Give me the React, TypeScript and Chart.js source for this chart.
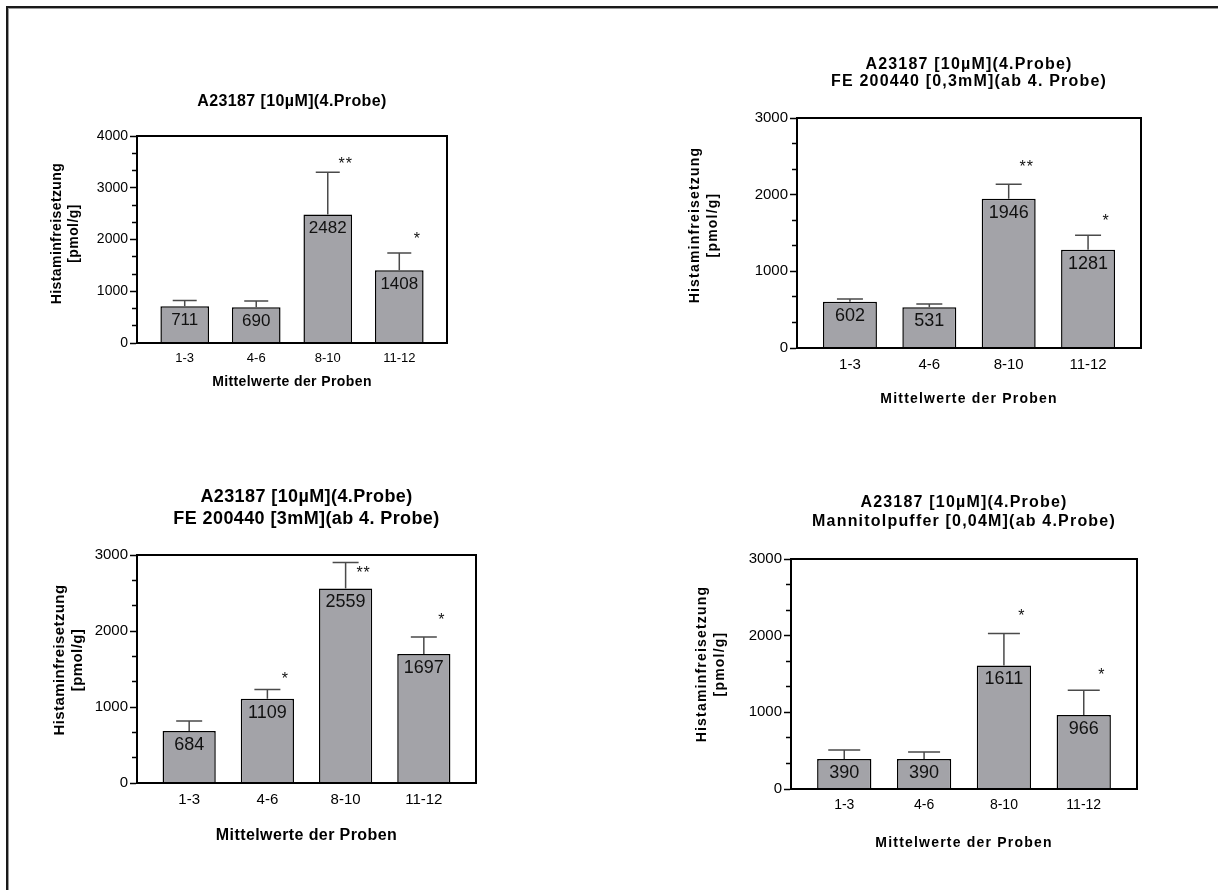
import React, { useEffect, useRef } from 'react';
import { Chart, registerables } from 'chart.js';

Chart.register(...registerables);

const W = 1218;
const H = 890;
const FONT = 'Arial, "Liberation Sans", Helvetica, sans-serif';

// ---------- data ----------
const categories = ['1-3', '4-6', '8-10', '11-12'];
const yAxisTitle = ['Histaminfreisetzung', '[pmol/g]'];
const xAxisTitle = 'Mittelwerte der Proben';

const titleA = ['A23187 [10µM](4.Probe)'];
const valuesA = [711, 690, 2482, 1408];
const errorsA = [109, 122, 818, 332];
const starsA = ['', '', '**', '*'];
const starLevelsA = [0, 0, 3507, 2056];
const yMaxA = 4000;

const titleB = ['A23187 [10µM](4.Probe)', 'FE 200440 [0,3mM](ab 4. Probe)'];
const valuesB = [602, 531, 1946, 1281];
const errorsB = [38, 44, 191, 189];
const starsB = ['', '', '**', '*'];
const starLevelsB = [0, 0, 2391, 1693];
const yMaxB = 3000;

const titleC = ['A23187 [10µM](4.Probe)', 'FE 200440 [3mM](ab 4. Probe)'];
const valuesC = [684, 1109, 2559, 1697];
const errorsC = [132, 120, 341, 224];
const starsC = ['', '*', '**', '*'];
const starLevelsC = [0, 1404, 2799, 2180];
const yMaxC = 3000;

const titleD = ['A23187 [10µM](4.Probe)', 'Mannitolpuffer [0,04M](ab 4.Probe)'];
const valuesD = [390, 390, 1611, 966];
const errorsD = [119, 93, 416, 321];
const starsD = ['', '', '*', '*'];
const starLevelsD = [0, 0, 2288, 1518];
const yMaxD = 3000;

// ---------- layout / style per panel ----------
type Panel = {
  title: string[]; values: number[]; errors: number[]; stars: string[]; starLevels: number[]; yMax: number;
  area: { l: number; t: number; r: number; b: number };
  spacing: number;
  titleSize: number; titleLH: number; titleY: number;
  yTitleSize: number; yTitleLH: number; yTitleX: number; yTitleShift: number;
  xTitleSize: number; xTitleY: number;
  xTickSize: number; yTickSize: number; valueSize: number; cap: number;
};

const panels: Panel[] = [
  {
    title: titleA, values: valuesA, errors: errorsA, stars: starsA, starLevels: starLevelsA, yMax: yMaxA,
    area: { l: 137, t: 136, r: 447, b: 343 },
    spacing: 0.4,
    titleSize: 16, titleLH: 19, titleY: 102,
    yTitleSize: 14, yTitleLH: 17, yTitleX: 57, yTitleShift: 6,
    xTitleSize: 14, xTitleY: 382,
    xTickSize: 13, yTickSize: 14, valueSize: 17, cap: 24,
  },
  {
    title: titleB, values: valuesB, errors: errorsB, stars: starsB, starLevels: starLevelsB, yMax: yMaxB,
    area: { l: 797, t: 118, r: 1141, b: 348 },
    spacing: 1.2,
    titleSize: 16, titleLH: 17, titleY: 65,
    yTitleSize: 14, yTitleLH: 18, yTitleX: 695, yTitleShift: 8,
    xTitleSize: 14, xTitleY: 399,
    xTickSize: 15, yTickSize: 15, valueSize: 18, cap: 26,
  },
  {
    title: titleC, values: valuesC, errors: errorsC, stars: starsC, starLevels: starLevelsC, yMax: yMaxC,
    area: { l: 137, t: 555, r: 476, b: 783 },
    spacing: 0.4,
    titleSize: 18, titleLH: 22, titleY: 497,
    yTitleSize: 15, yTitleLH: 18, yTitleX: 60, yTitleShift: 9,
    xTitleSize: 16, xTitleY: 836,
    xTickSize: 15, yTickSize: 15, valueSize: 18, cap: 26,
  },
  {
    title: titleD, values: valuesD, errors: errorsD, stars: starsD, starLevels: starLevelsD, yMax: yMaxD,
    area: { l: 791, t: 559, r: 1137, b: 789 },
    spacing: 1.2,
    titleSize: 16, titleLH: 19, titleY: 503,
    yTitleSize: 14, yTitleLH: 18, yTitleX: 702, yTitleShift: 10,
    xTitleSize: 14, xTitleY: 843,
    xTickSize: 14, yTickSize: 15, valueSize: 18, cap: 32,
  },
];

const Y_W = 130;
const X_H = 80;
const TICK_LEN = 7;

function makeConfig(p: Panel): any {
  const { area } = p;
  const nTitle = p.title.length;
  const padTop = p.titleY - p.titleLH / 2;
  const titleGap = area.t - (padTop + nTitle * p.titleLH);
  const xTitleLH = Math.round(p.xTitleSize * 1.2);
  const xTitlePadB = area.b + X_H - xTitleLH / 2 - p.xTitleY;
  const yTitlePadT = p.yTitleX - (area.l - Y_W) - p.yTitleLH / 2;

  const minorCount = (p.yMax / 1000) * 3;
  const yTicks: number[] = [];
  for (let k = 0; k <= minorCount; k++) yTicks.push(k % 3 === 0 ? (k / 3) * 1000 : (k * 1000) / 3);
  const isMajor = (v: number) => Math.abs(v / 1000 - Math.round(v / 1000)) < 1e-6;

  let shifted = false;
  const captionPlugin = {
    id: 'captions',
    afterLayout(chart: any) {
      // the y-axis caption sits a little above the middle of the axis in the original
      const ys = chart.scales.y;
      ys.top -= p.yTitleShift;
      ys.bottom -= p.yTitleShift;
      shifted = true;
    },
    beforeDraw(chart: any) {
      // bold captions (chart title + axis titles) get a little letter spacing
      (chart.ctx as any).letterSpacing = `${p.spacing}px`;
    },
    beforeDatasetsDraw(chart: any) {
      if (shifted) {
        const ys = chart.scales.y;
        ys.top += p.yTitleShift;
        ys.bottom += p.yTitleShift;
        shifted = false;
      }
    },
  };

  const overlay = {
    id: 'overlay',
    afterDatasetsDraw(chart: any) {
      const ctx = chart.ctx as CanvasRenderingContext2D;
      // tick labels (z = 1) are drawn after this hook: no letter spacing for them
      (ctx as any).letterSpacing = '0px';
      const { left, top, right, bottom } = chart.chartArea;
      const ys = chart.scales.y;
      const meta = chart.getDatasetMeta(0);
      ctx.save();
      meta.data.forEach((bar: any, i: number) => {
        const x = bar.x;
        const y0 = ys.getPixelForValue(p.values[i]);
        const y1 = ys.getPixelForValue(p.values[i] + p.errors[i]);
        ctx.strokeStyle = '#4a4a4a';
        ctx.lineWidth = 1.5;
        ctx.beginPath();
        ctx.moveTo(x, y0);
        ctx.lineTo(x, y1);
        ctx.moveTo(x - p.cap / 2, y1);
        ctx.lineTo(x + p.cap / 2, y1);
        ctx.stroke();

        ctx.fillStyle = '#111';
        ctx.font = `${p.valueSize}px ${FONT}`;
        ctx.textAlign = 'center';
        ctx.textBaseline = 'middle';
        ctx.fillText(String(p.values[i]), x, y0 + 14);

        if (p.stars[i]) {
          ctx.font = `16px ${FONT}`;
          (ctx as any).letterSpacing = '1px';
          ctx.fillText(p.stars[i], x + 18, ys.getPixelForValue(p.starLevels[i]) + 3);
          (ctx as any).letterSpacing = '0px';
        }
      });
      ctx.strokeStyle = '#000';
      ctx.lineWidth = 2;
      ctx.beginPath();
      ctx.moveTo(left - 1, top);
      ctx.lineTo(right, top);
      ctx.lineTo(right, bottom + 1);
      ctx.stroke();
      ctx.restore();
    },
  };

  return {
    type: 'bar',
    data: {
      datasets: [
        {
          data: p.values.map((v, i) => ({ x: i, y: v })),
          backgroundColor: '#a3a3a8',
          borderColor: '#000',
          borderWidth: 1.5,
          borderSkipped: 'start',
          categoryPercentage: 1,
          barPercentage: 0.68,
        },
      ],
    },
    options: {
      responsive: false,
      animation: false,
      devicePixelRatio: 1,
      events: [],
      layout: {
        autoPadding: false,
        padding: { left: area.l - Y_W, right: W - area.r, top: padTop, bottom: H - area.b - X_H },
      },
      plugins: {
        legend: { display: false },
        tooltip: { enabled: false },
        title: {
          display: true,
          fullSize: false,
          text: p.title,
          color: '#000',
          font: { family: FONT, size: p.titleSize, weight: 'bold', lineHeight: `${p.titleLH}px` },
          padding: { top: 0, bottom: titleGap },
        },
      },
      scales: {
        x: {
          type: 'linear',
          offset: false,
          min: -0.667,
          max: 3.667,
          afterFit: (s: any) => { s.height = X_H; },
          afterBuildTicks: (s: any) => { s.ticks = categories.map((_, i) => ({ value: i })); },
          grid: { display: false, offset: false, drawTicks: false, drawOnChartArea: false },
          border: { display: true, width: 2, color: '#000', z: 1 },
          ticks: {
            z: 1,
            autoSkip: false,
            maxRotation: 0,
            padding: 8,
            color: '#000',
            font: { family: FONT, size: p.xTickSize },
            callback: (v: number) => categories[Math.round(v)] ?? '',
          },
          title: {
            display: true,
            text: xAxisTitle,
            color: '#000',
            font: { family: FONT, size: p.xTitleSize, weight: 'bold', lineHeight: `${xTitleLH}px` },
            padding: { top: 0, bottom: xTitlePadB },
          },
        },
        y: {
          type: 'linear',
          min: 0,
          max: p.yMax,
          afterFit: (s: any) => { s.width = Y_W; },
          afterBuildTicks: (s: any) => { s.ticks = yTicks.map((v) => ({ value: v })); },
          grid: {
            display: true,
            drawOnChartArea: false,
            drawTicks: true,
            tickLength: TICK_LEN,
            tickWidth: 1.5,
            tickColor: '#000',
            tickBorderDash: (c: any) => (isMajor(c.tick.value) ? [] : [4, 2]),
            tickBorderDashOffset: (c: any) => (isMajor(c.tick.value) ? 0 : 4),
          },
          border: { display: true, width: 2, color: '#000', z: 1 },
          ticks: {
            z: 1,
            autoSkip: false,
            padding: 2,
            color: '#000',
            font: { family: FONT, size: p.yTickSize },
            callback: (v: number) => (isMajor(v) ? String(Math.round(v)) : ''),
          },
          title: {
            display: true,
            text: yAxisTitle,
            color: '#000',
            font: { family: FONT, size: p.yTitleSize, weight: 'bold', lineHeight: `${p.yTitleLH}px` },
            padding: { top: yTitlePadT, bottom: 0 },
          },
        },
      },
    },
    plugins: [captionPlugin, overlay],
  };
}

function PanelChart({ panel }: { panel: Panel }) {
  const ref = useRef<HTMLCanvasElement | null>(null);
  useEffect(() => {
    if (!ref.current) return;
    const chart = new Chart(ref.current, makeConfig(panel));
    return () => chart.destroy();
  }, [panel]);
  return (
    <canvas
      ref={ref}
      width={W}
      height={H}
      style={{ position: 'absolute', left: 0, top: 0, width: W, height: H }}
    />
  );
}

export default function App() {
  return (
    <div style={{ position: 'fixed', left: 0, top: 0, width: W, height: H, background: '#fff', overflow: 'hidden' }}>
      <div
        style={{
          position: 'absolute',
          left: 6,
          top: 6,
          width: W,
          height: H,
          borderTop: '2px solid #1a1a1a',
          borderLeft: '2px solid #1a1a1a',
          boxShadow: 'inset 1px 1px 0 #9a9a9a',
        }}
      />
      {panels.map((p, i) => (
        <PanelChart key={i} panel={p} />
      ))}
    </div>
  );
}
